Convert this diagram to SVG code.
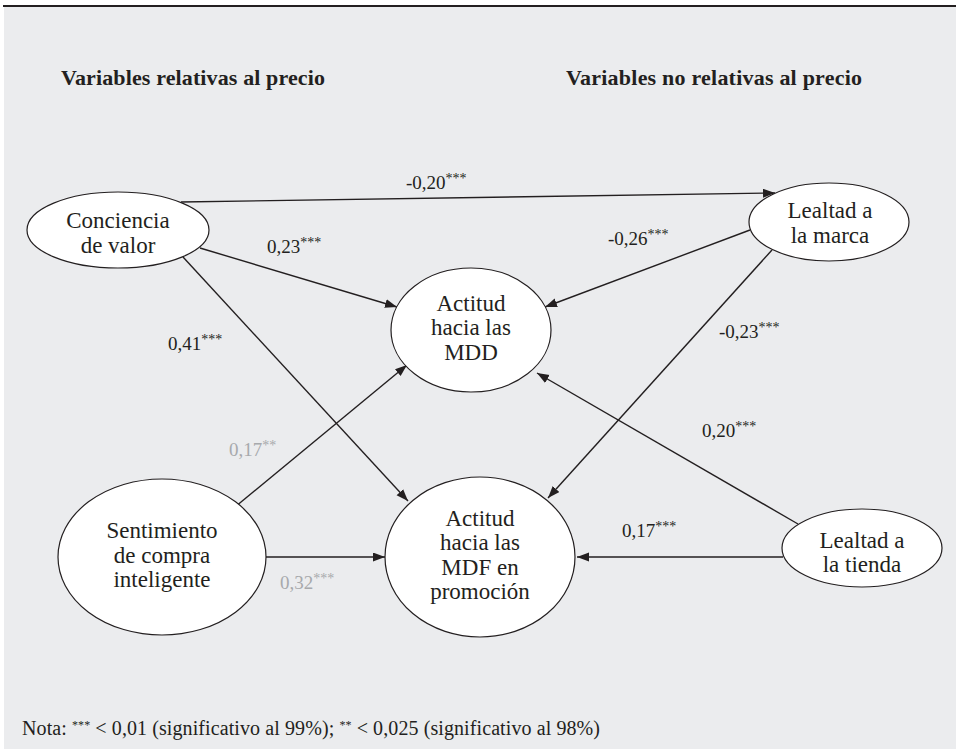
<svg xmlns="http://www.w3.org/2000/svg" width="956" height="755" viewBox="0 0 956 755">
<defs>
<marker id="arr" markerWidth="13" markerHeight="10" refX="12" refY="4.5" orient="auto" markerUnits="userSpaceOnUse">
<path d="M0,0 L12,4.5 L0,9 z" fill="#231f20"/>
</marker>
<style>
.node ellipse{fill:#ffffff;stroke:#231f20;stroke-width:1.2}
.node text{font-family:"Liberation Serif","Times New Roman",serif;font-size:23px;fill:#231f20;text-anchor:middle}
.conn line{stroke:#231f20;stroke-width:1.4;marker-end:url(#arr)}
.lbl{font-family:"Liberation Serif","Times New Roman",serif;font-size:19px;fill:#231f20}
.lbl.gray{fill:#a7a9ac}
.sup{font-size:14px}
.title{font-family:"Liberation Serif","Times New Roman",serif;font-size:22px;font-weight:bold;fill:#231f20}
.note{font-family:"Liberation Serif","Times New Roman",serif;font-size:20px;fill:#231f20}
</style>
</defs>
<rect x="0" y="0" width="956" height="755" fill="#ffffff"/>
<rect x="4" y="7" width="952" height="742" fill="#ebecee"/>
<line x1="3" y1="6" x2="956" y2="6" stroke="#231f20" stroke-width="2"/>

<text class="title" x="61" y="85" textLength="264" lengthAdjust="spacing">Variables relativas al precio</text>
<text class="title" x="566" y="85" textLength="296" lengthAdjust="spacing">Variables no relativas al precio</text>

<g id="connectors" class="conn">
<line x1="181" y1="202" x2="775" y2="193"/>
<line x1="200" y1="248" x2="397" y2="307"/>
<line x1="183" y1="257" x2="408" y2="501"/>
<line x1="235" y1="507" x2="407" y2="365"/>
<line x1="266" y1="557" x2="385" y2="557"/>
<line x1="750" y1="230" x2="545" y2="307"/>
<line x1="772" y1="250" x2="548" y2="498"/>
<line x1="798" y1="524" x2="537" y2="373"/>
<line x1="783" y1="557" x2="577" y2="557"/>
</g>

<g id="conciencia" class="node">
<ellipse cx="118" cy="230" rx="91" ry="38"/>
<text x="118" y="228">Conciencia</text>
<text x="118" y="253">de valor</text>
</g>
<g id="lealtad-marca" class="node">
<ellipse cx="829" cy="222" rx="80" ry="39"/>
<text x="830" y="218">Lealtad a</text>
<text x="830" y="243">la marca</text>
</g>
<g id="actitud-mdd" class="node">
<ellipse cx="471" cy="330" rx="80" ry="62"/>
<text x="471" y="311">Actitud</text>
<text x="471" y="335">hacia las</text>
<text x="471" y="360">MDD</text>
</g>
<g id="sentimiento" class="node">
<ellipse cx="162" cy="557" rx="104" ry="78"/>
<text x="162" y="538">Sentimiento</text>
<text x="162" y="563">de compra</text>
<text x="162" y="587">inteligente</text>
</g>
<g id="actitud-mdf" class="node">
<ellipse cx="480" cy="557" rx="95" ry="80"/>
<text x="480" y="526">Actitud</text>
<text x="480" y="550">hacia las</text>
<text x="480" y="575">MDF en</text>
<text x="480" y="599">promoción</text>
</g>
<g id="lealtad-tienda" class="node">
<ellipse cx="862" cy="548" rx="80" ry="39"/>
<text x="862" y="548">Lealtad a</text>
<text x="862" y="572">la tienda</text>
</g>

<g id="labels">
<text class="lbl" x="406" y="189">-0,20<tspan class="sup" dy="-6">***</tspan></text>
<text class="lbl" x="267" y="253">0,23<tspan class="sup" dy="-6">***</tspan></text>
<text class="lbl" x="168" y="350">0,41<tspan class="sup" dy="-6">***</tspan></text>
<text class="lbl" x="608" y="245">-0,26<tspan class="sup" dy="-6">***</tspan></text>
<text class="lbl" x="719" y="338">-0,23<tspan class="sup" dy="-6">***</tspan></text>
<text class="lbl" x="702" y="437">0,20<tspan class="sup" dy="-6">***</tspan></text>
<text class="lbl" x="622" y="537">0,17<tspan class="sup" dy="-6">***</tspan></text>
<text class="lbl gray" x="229" y="456">0,17<tspan class="sup" dy="-6">**</tspan></text>
<text class="lbl gray" x="280" y="589">0,32<tspan class="sup" dy="-6">***</tspan></text>
</g>

<text class="note" x="22" y="735" textLength="578" lengthAdjust="spacing">Nota: <tspan font-size="12" dy="-6">***</tspan><tspan dy="6"> &lt; 0,01 (significativo al 99%); </tspan><tspan font-size="12" dy="-6">**</tspan><tspan dy="6"> &lt; 0,025 (significativo al 98%)</tspan></text>
</svg>
